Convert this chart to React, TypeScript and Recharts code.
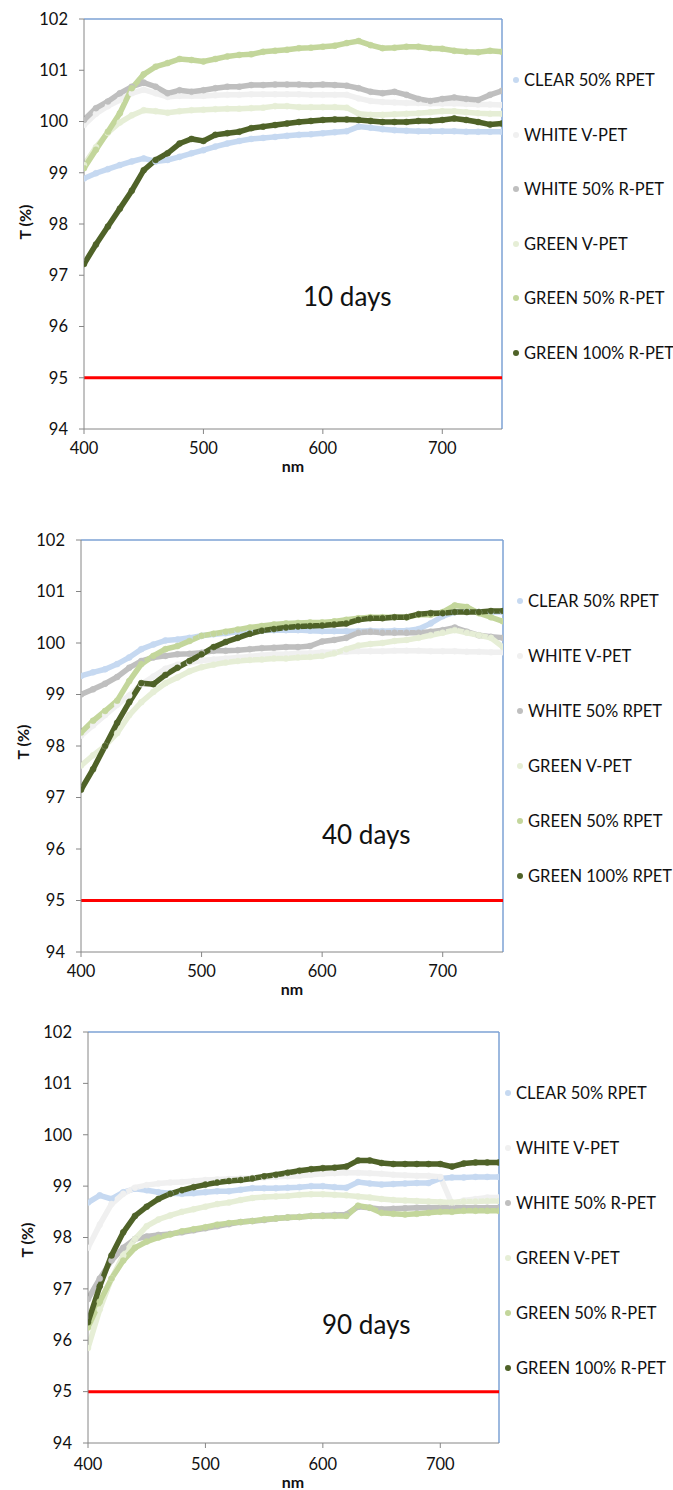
import { Line, LineChart, ReferenceLine, XAxis, YAxis } from "recharts";

const FONT = "Lato, 'Open Sans', sans-serif";

// wavelength grid (nm)
const NM = [
  400, 410, 420, 430, 440, 450, 460, 470, 480, 490, 500, 510, 520, 530, 540, 550, 560, 570,
  580, 590, 600, 610, 620, 630, 640, 650, 660, 670, 680, 690, 700, 710, 720, 730, 740, 750
];
const X_TICKS = [400, 500, 600, 700];
const Y_TICKS = [94, 95, 96, 97, 98, 99, 100, 101, 102];

// 10 days
const clear10 = [98.89, 98.99, 99.07, 99.15, 99.22, 99.28, 99.22, 99.25, 99.31, 99.38, 99.44, 99.51, 99.57, 99.62, 99.66, 99.68, 99.7, 99.72, 99.74, 99.75, 99.77, 99.79, 99.81, 99.9, 99.88, 99.85, 99.83, 99.82, 99.81, 99.81, 99.81, 99.81, 99.8, 99.8, 99.8, 99.8];
const whiteV10 = [99.93, 100.15, 100.3, 100.42, 100.55, 100.62, 100.55, 100.48, 100.5, 100.5, 100.5, 100.51, 100.52, 100.52, 100.53, 100.53, 100.53, 100.53, 100.53, 100.52, 100.52, 100.52, 100.52, 100.45, 100.4, 100.38, 100.37, 100.36, 100.36, 100.35, 100.35, 100.35, 100.34, 100.33, 100.33, 100.32];
const white5010 = [100.03, 100.26, 100.39, 100.55, 100.68, 100.76, 100.68, 100.55, 100.61, 100.58, 100.61, 100.65, 100.68, 100.68, 100.71, 100.71, 100.72, 100.72, 100.72, 100.71, 100.72, 100.71, 100.7, 100.65, 100.58, 100.55, 100.58, 100.52, 100.44, 100.4, 100.44, 100.47, 100.44, 100.42, 100.52, 100.6];
const greenV10 = [99.15, 99.5, 99.78, 99.98, 100.12, 100.22, 100.2, 100.17, 100.2, 100.22, 100.23, 100.24, 100.25, 100.25, 100.26, 100.27, 100.3, 100.3, 100.28, 100.28, 100.28, 100.28, 100.27, 100.15, 100.13, 100.13, 100.14, 100.15, 100.16, 100.18, 100.2, 100.2, 100.18, 100.16, 100.15, 100.15];
const green5010 = [99.09, 99.45, 99.8, 100.16, 100.65, 100.92, 101.07, 101.14, 101.22, 101.2, 101.17, 101.22, 101.27, 101.3, 101.31, 101.36, 101.38, 101.4, 101.43, 101.44, 101.46, 101.48, 101.53, 101.57, 101.49, 101.43, 101.44, 101.46, 101.46, 101.43, 101.42, 101.38, 101.36, 101.35, 101.38, 101.36];
const green10010 = [97.22, 97.6, 97.95, 98.3, 98.65, 99.05, 99.25, 99.38, 99.57, 99.66, 99.62, 99.74, 99.77, 99.8, 99.87, 99.9, 99.93, 99.96, 99.99, 100.01, 100.03, 100.04, 100.04, 100.03, 100.01, 99.99, 99.99, 99.99, 100.01, 100.01, 100.03, 100.06, 100.03, 99.99, 99.94, 99.96];

// 40 days
const clear40 = [99.36, 99.43, 99.49, 99.59, 99.72, 99.88, 99.97, 100.05, 100.07, 100.1, 100.14, 100.17, 100.19, 100.22, 100.23, 100.24, 100.25, 100.25, 100.25, 100.24, 100.23, 100.23, 100.23, 100.23, 100.24, 100.23, 100.24, 100.24, 100.27, 100.38, 100.52, 100.6, 100.63, 100.6, 100.6, 100.6];
const whiteV40 = [98.2, 98.4, 98.6, 98.8, 98.98, 99.2, 99.35, 99.5, 99.58, 99.62, 99.66, 99.68, 99.7, 99.72, 99.74, 99.76, 99.78, 99.78, 99.8, 99.8, 99.82, 99.82, 99.83, 99.84, 99.84, 99.84, 99.85, 99.85, 99.85, 99.84, 99.84, 99.84, 99.83, 99.83, 99.82, 99.82];
const white5040 = [99.0, 99.1, 99.21, 99.34, 99.52, 99.65, 99.72, 99.75, 99.78, 99.79, 99.81, 99.85, 99.85, 99.86, 99.88, 99.9, 99.91, 99.92, 99.92, 99.94, 100.03, 100.06, 100.1, 100.2, 100.22, 100.2, 100.2, 100.2, 100.2, 100.22, 100.25, 100.3, 100.22, 100.15, 100.12, 100.1];
const greenV40 = [97.62, 97.82, 98.0, 98.25, 98.6, 98.85, 99.05, 99.22, 99.33, 99.45, 99.53, 99.58, 99.62, 99.65, 99.67, 99.68, 99.7, 99.7, 99.72, 99.73, 99.75, 99.8, 99.88, 99.95, 99.98, 100.0, 100.04, 100.06, 100.1, 100.15, 100.2, 100.25, 100.2, 100.15, 100.1, 99.92];
const green5040 = [98.26, 98.49, 98.68, 98.88, 99.26, 99.59, 99.75, 99.88, 99.94, 100.04, 100.14, 100.18, 100.22, 100.26, 100.3, 100.33, 100.36, 100.38, 100.39, 100.4, 100.4, 100.42, 100.45, 100.48, 100.5, 100.5, 100.5, 100.5, 100.55, 100.55, 100.6, 100.73, 100.7, 100.58, 100.5, 100.42];
const green10040 = [97.15, 97.55, 98.0, 98.45, 98.85, 99.22, 99.2, 99.38, 99.52, 99.65, 99.78, 99.92, 100.02, 100.1, 100.18, 100.24, 100.27, 100.3, 100.32, 100.33, 100.34, 100.36, 100.38, 100.45, 100.48, 100.48, 100.5, 100.5, 100.56, 100.58, 100.58, 100.6, 100.6, 100.6, 100.62, 100.62];

// 90 days
const clear90 = [98.68, 98.82, 98.75, 98.88, 98.95, 98.92, 98.88, 98.86, 98.85, 98.86, 98.88, 98.9, 98.9, 98.93, 98.96, 98.96, 98.96, 98.97, 98.98, 99.0, 99.0, 98.98, 98.97, 99.08, 99.05, 99.03, 99.04, 99.05, 99.06, 99.06, 99.15, 99.17, 99.17, 99.18, 99.18, 99.18];
const whiteV90 = [97.8, 98.25, 98.65, 98.85, 98.97, 99.02, 99.05, 99.07, 99.08, 99.1, 99.12, 99.13, 99.14, 99.15, 99.16, 99.17, 99.18, 99.19, 99.2, 99.22, 99.24, 99.25, 99.26, 99.26, 99.25, 99.24, 99.22, 99.21, 99.2, 99.2, 99.18, 98.65, 98.72, 98.75, 98.78, 98.78];
const white5090 = [96.8, 97.2, 97.55, 97.8, 97.97, 98.02, 98.05, 98.07, 98.1, 98.14, 98.18, 98.22, 98.26, 98.3, 98.32, 98.34, 98.37, 98.39, 98.4, 98.42, 98.43, 98.44, 98.45, 98.6, 98.58, 98.55, 98.56, 98.57, 98.58, 98.58, 98.58, 98.58, 98.58, 98.58, 98.58, 98.58];
const greenV90 = [95.85, 96.6, 97.2, 97.65, 97.97, 98.22, 98.35, 98.43, 98.5, 98.55, 98.6, 98.65, 98.68, 98.73, 98.77, 98.79, 98.8, 98.81, 98.83, 98.84, 98.84, 98.83, 98.82, 98.8, 98.78, 98.75, 98.73, 98.72, 98.71, 98.7, 98.69, 98.68, 98.7, 98.7, 98.71, 98.71];
const green5090 = [96.25, 96.75, 97.2, 97.55, 97.8, 97.92, 98.0, 98.06, 98.12, 98.16, 98.2, 98.25, 98.28, 98.3, 98.32, 98.35, 98.37, 98.39, 98.4, 98.42, 98.42, 98.42, 98.42, 98.62, 98.58, 98.48, 98.46, 98.45, 98.46, 98.48, 98.5, 98.5, 98.52, 98.52, 98.52, 98.52];
const green10090 = [96.35, 97.05, 97.65, 98.1, 98.42, 98.6, 98.75, 98.85, 98.92, 98.98, 99.03, 99.07, 99.1, 99.12, 99.15, 99.19, 99.22, 99.26, 99.3, 99.33, 99.35, 99.36, 99.38, 99.5, 99.5, 99.45, 99.43, 99.43, 99.43, 99.43, 99.43, 99.38, 99.44, 99.46, 99.46, 99.46];

const COLORS = ["#c6d9f1", "#f0f0f0", "#bfbfbf", "#e6eed6", "#c3d69b", "#4f6228"];
const NAMES_R = ["CLEAR 50% RPET", "WHITE V-PET", "WHITE 50% R-PET", "GREEN V-PET", "GREEN 50% R-PET", "GREEN 100% R-PET"];
const NAMES_40 = ["CLEAR 50% RPET", "WHITE V-PET", "WHITE 50% RPET", "GREEN V-PET", "GREEN 50% RPET", "GREEN 100% RPET"];

interface PanelProps {
  top: number;
  height: number;
  margin: { top: number; right: number; bottom: number; left: number };
  values: number[][];
  names: string[];
  days: string;
  daysPos: { x: number; y: number };
  legend: { x: number; y: number; gap: number };
  yLabel: { x: number; y: number };
  nmLabel: { x: number; y: number };
  tickMargin: number;
}

function Panel(props: PanelProps): JSX.Element {
  const { top, height, margin, values, names, days, daysPos, legend, yLabel, nmLabel, tickMargin } = props;
  const rows = NM.map((nm, i) => {
    const row: Record<string, number> = { nm };
    values.forEach((v, s) => {
      row[`s${s}`] = v[i];
    });
    return row;
  });
  const tickStyle = { fill: "#111", fontSize: 16.5, fontFamily: FONT };

  return (
    <>
      <div style={{ position: "absolute", left: 0, top }}>
        <LineChart width={673} height={height} data={rows} margin={margin}>
          <XAxis
            dataKey="nm"
            type="number"
            domain={[400, 750]}
            ticks={X_TICKS}
            allowDataOverflow
            height={30}
            tickSize={5}
            tickMargin={tickMargin}
            tick={tickStyle}
            stroke="#868686"
          />
          <YAxis
            type="number"
            domain={[94, 102]}
            ticks={Y_TICKS}
            allowDataOverflow
            width={50}
            tickSize={5}
            tickMargin={11}
            tick={tickStyle}
            stroke="#868686"
          />
          {/* plot frame: top and right edges */}
          <ReferenceLine y={102} stroke="#7da2d4" strokeWidth={1.5} />
          <ReferenceLine x={750} stroke="#7da2d4" strokeWidth={1.5} />
          <ReferenceLine y={95} stroke="#ff0000" strokeWidth={3} />
          {values.map((_, s) => (
            <Line
              key={s}
              dataKey={`s${s}`}
              type="linear"
              stroke={COLORS[s]}
              strokeWidth={5.5}
              dot={{ r: 3, fill: COLORS[s], stroke: COLORS[s], strokeWidth: 0.5 }}
              isAnimationActive={false}
            />
          ))}
        </LineChart>
      </div>

      <div
        style={{
          position: "absolute",
          left: yLabel.x - 30,
          top: yLabel.y - 10,
          width: 60,
          height: 20,
          lineHeight: "20px",
          textAlign: "center",
          transform: "rotate(-90deg)",
          fontFamily: FONT,
          fontWeight: 700,
          fontSize: 16,
          color: "#111"
        }}
      >
        T (%)
      </div>
      <div
        style={{
          position: "absolute",
          left: nmLabel.x - 30,
          top: nmLabel.y - 10,
          width: 60,
          lineHeight: "20px",
          textAlign: "center",
          fontFamily: FONT,
          fontWeight: 700,
          fontSize: 16,
          color: "#111"
        }}
      >
        nm
      </div>
      <div
        style={{
          position: "absolute",
          left: daysPos.x,
          top: daysPos.y - 14,
          lineHeight: "26px",
          fontFamily: FONT,
          fontSize: 26,
          color: "#111",
          whiteSpace: "nowrap"
        }}
      >
        {days}
      </div>

      {names.map((name, s) => (
        <div
          key={name}
          style={{
            position: "absolute",
            left: legend.x - 3,
            top: legend.y + s * legend.gap - 10,
            height: 20,
            display: "flex",
            alignItems: "center",
            fontFamily: FONT,
            fontSize: 16.5,
            color: "#111",
            whiteSpace: "nowrap"
          }}
        >
          <span
            style={{
              display: "inline-block",
              width: 6,
              height: 6,
              borderRadius: 3,
              background: COLORS[s],
              marginRight: 5
            }}
          />
          {name}
        </div>
      ))}
    </>
  );
}

export default function App(): JSX.Element {
  return (
    <div style={{ position: "absolute", left: 0, top: 0, width: 673, height: 1490, background: "#fff" }}>
      <Panel
        top={0}
        height={480}
        margin={{ top: 19, right: 171, bottom: 21, left: 34 }}
        values={[clear10, whiteV10, white5010, greenV10, green5010, green10010]}
        names={NAMES_R}
        days="10 days"
        daysPos={{ x: 303, y: 297 }}
        legend={{ x: 516, y: 80, gap: 54.6 }}
        yLabel={{ x: 25, y: 222 }}
        nmLabel={{ x: 293, y: 466 }}
        tickMargin={8}
      />
      <Panel
        top={500}
        height={490}
        margin={{ top: 40, right: 170, bottom: 8, left: 31 }}
        values={[clear40, whiteV40, white5040, greenV40, green5040, green10040]}
        names={NAMES_40}
        days="40 days"
        daysPos={{ x: 322, y: 835 }}
        legend={{ x: 520, y: 601, gap: 55 }}
        yLabel={{ x: 23, y: 742 }}
        nmLabel={{ x: 292, y: 989 }}
        tickMargin={8}
      />
      <Panel
        top={1000}
        height={490}
        margin={{ top: 32, right: 174, bottom: 17, left: 38 }}
        values={[clear90, whiteV90, white5090, greenV90, green5090, green10090]}
        names={NAMES_R}
        days="90 days"
        daysPos={{ x: 322, y: 1325 }}
        legend={{ x: 508, y: 1093, gap: 55 }}
        yLabel={{ x: 27, y: 1240 }}
        nmLabel={{ x: 293, y: 1482 }}
        tickMargin={10}
      />
    </div>
  );
}
